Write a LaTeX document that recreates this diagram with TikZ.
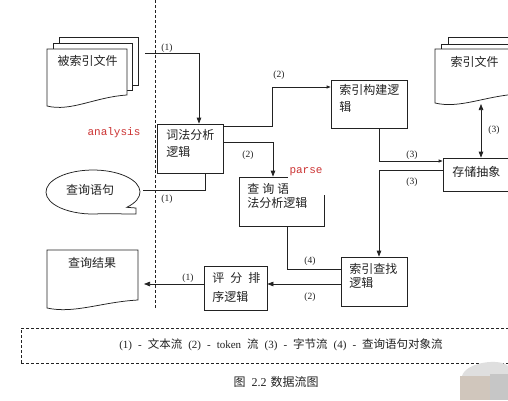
\documentclass[tikz,border=0pt]{standalone}
\usepackage{fontspec}
\setmainfont{Liberation Serif}
\newfontfamily\cjk{Noto Sans CJK SC}
\newfontfamily\monof{Liberation Mono}
\usetikzlibrary{arrows.meta}
\definecolor{ln}{HTML}{222222}
\definecolor{redt}{HTML}{CC3333}
\newcommand\wavedoc[5]{%
  \filldraw[docst] (#1,#2) -- (#3,#2) -- (#3,#5) .. controls ({#1+0.6*(#3-#1)},{#5+2}) and ({#1+0.3*(#3-#1)},{#4+6}) .. (#1,#4) -- cycle;}
\newcommand\lgap{\hspace{6pt}}
\newcommand\lcj[1]{{\cjk\fontsize{11.5}{12}\selectfont #1}}
\begin{document}
\begin{tikzpicture}[x=1pt,y=-1pt,line width=0.75pt,
  every node/.style={inner sep=0pt},
  docst/.style={draw=ln,fill=white},
  box/.style={draw=ln,fill=white,rectangle},
  t/.style={font=\cjk\fontsize{12}{14}\selectfont,anchor=west,text=ln},
  lab/.style={font=\fontsize{9.5}{11}\selectfont,text=ln},
  redtxt/.style={font=\monof\fontsize{11}{12}\selectfont,text=redt},
  arr/.style={draw=ln,-{Triangle[length=6pt,width=4.5pt]}},
  arrs/.style={draw=ln,-{Triangle[length=4pt,width=3pt]}},
  dual/.style={draw=ln,{Triangle[length=6pt,width=4.5pt]}-{Triangle[length=6pt,width=4.5pt]}},
  conn/.style={draw=ln}]
\useasboundingbox (0,0) rectangle (508,400);
\clip (0,0) rectangle (508,400);
\fill[white] (0,0) rectangle (508,400);

% divider
\draw[ln,dash pattern=on 3pt off 2pt,line width=0.8pt] (155,0) -- (155,308);

% document shapes
\filldraw[docst] (59,37) rectangle (138,85);
\filldraw[docst] (53,43) rectangle (132,90);
\wavedoc{47}{49}{127}{106}{95}
\node[t,anchor=center] (docin) at (87.5,61) {被索引文件};

\filldraw[docst] (448,37) rectangle (530,80);
\filldraw[docst] (441,44) rectangle (525,85);
\wavedoc{435}{49}{518}{103}{94}
\node[t,anchor=center] (idx) at (474.5,62) {索引文件};

\wavedoc{47}{250}{138}{308}{300}
\node[t,anchor=center] (res) at (92,263) {查询结果};

\filldraw[docst] (126.8,207.3) arc[start angle=44,end angle=-280,x radius=47,y radius=22] -- (136,214) -- (136,208) -- cycle;
\node[t,anchor=center] (query) at (90,190) {查询语句};

% boxes
\node[box,minimum width=66pt,minimum height=49pt] (lex) at (190,148.5) {};
\node[t] (lex1) at (166,135) {词法分析};
\node[t] (lex2) at (166,152) {逻辑};

\node[box,minimum width=76pt,minimum height=48pt] (build) at (369,104) {};
\node[t] (build1) at (339,90) {索引构建逻};
\node[t] (build2) at (339,107) {辑};

\node[box,minimum width=85pt,minimum height=49pt] (qparse) at (281.5,201.5) {};
\node[t] (qp1) at (247,189) {查\hspace{3pt}询\hspace{3pt}语};
\node[t] (qp2) at (247,203) {法分析逻辑};

\node[box,minimum width=77pt,minimum height=33pt] (store) at (481.5,174.5) {};
\node[t] (store1) at (452,172) {存储抽象};

\node[box,minimum width=66pt,minimum height=49pt] (find) at (374,281.5) {};
\node[t] (find1) at (349,269) {索引查找};
\node[t] (find2) at (349,283) {逻辑};

\node[box,minimum width=63pt,minimum height=44pt] (rank) at (235.5,288) {};
\node[t] (rank1) at (212,278) {评\hspace{6pt}分\hspace{6pt}排};
\node[t] (rank2) at (212,297) {序逻辑};

% red annotations
\node[redtxt] (an) at (114,133) {analysis};
\fill[white] (288,166) rectangle (330,195);
\node[redtxt] (pa) at (306,172) {parse};

% connectors
\coordinate (c1) at (145,53);
\draw[arr] (c1) -| ([xshift=9pt]lex.north);
\node[lab] (l1) at (167,48) {(1)};

\draw[arrs] ([yshift=22.5pt]lex.east) -- ++(49,0) |- ([yshift=17pt]build.west);
\node[lab] (l2) at (279,75) {(2)};

\draw[arr] ([yshift=6.5pt]lex.east) -| ([xshift=-8.5pt]qparse.north);
\node[lab] (l3) at (248,155) {(2)};

\coordinate (q1) at (143,190);
\draw[conn] (q1) -| ([xshift=15pt]lex.south);
\node[lab] (l4) at (167,199) {(1)};

\draw[arrs] ([xshift=10pt]build.south) |- ([yshift=13.5pt]store.west);
\node[lab] (l5) at (412,155) {(3)};

\draw[arr] ([yshift=4.5pt]store.west) -| ([xshift=5pt]find.north);
\node[lab] (l6) at (412,182) {(3)};

\coordinate (c7) at (481,104);
\draw[dual] (c7) -- (c7 |- store.north);
\node[lab] (l7) at (494,130) {(3)};

\draw[conn] ([xshift=5.5pt]qparse.south) |- ([yshift=12.5pt]find.west);
\node[lab] (l8) at (310,261) {(4)};

\draw[arr] ([yshift=-2.5pt]find.west) -- ([yshift=-2.5pt]find.west -| rank.east);
\node[lab] (l9) at (310,297) {(2)};

\coordinate (r1) at (144,284);
\draw[arr] ([yshift=4pt]rank.west) -- (r1);
\node[lab] (l10) at (188,278) {(1)};

% legend
\node[draw=ln,dash pattern=on 3pt off 2pt,line width=0.8pt,minimum width=494pt,minimum height=35pt] (leg) at (268,345.5) {};
\node[font=\fontsize{11}{12}\selectfont,text=ln] (legt) at (281,345) {(1)\lgap-\lgap\lcj{文本流}\lgap(2)\lgap-\lgap token\lgap\lcj{流}\lgap(3)\lgap-\lgap\lcj{字节流}\lgap(4)\lgap-\lgap\lcj{查询语句对象流}};

% caption
\node[font=\fontsize{12}{13}\selectfont,text=ln] (cap) at (276,382) {{\cjk 图}\hspace{6pt}2.2\hspace{4pt}{\cjk 数据流图}};

% watermark smudge
\fill[gray!25] (462,376) .. controls (466,362) and (500,358) .. (508,366) -- (508,378) -- cycle;
\fill[brown!35!gray!45] (460,376) rectangle (490,400);
\fill[gray!45] (490,374) rectangle (508,400);
\end{tikzpicture}
\end{document}
